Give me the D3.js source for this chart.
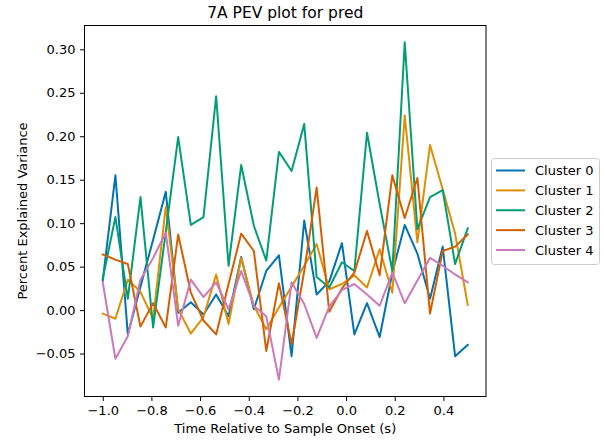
<!DOCTYPE html>
<html>
<head>
<meta charset="utf-8">
<script src="https://cdn.jsdelivr.net/npm/d3@7"></script>
<style>
  html, body { margin: 0; padding: 0; background: #fff; }
  svg { display: block; font-family: "DejaVu Sans", sans-serif; }
</style>
</head>
<body>
<svg id="chart" width="604" height="445"></svg>
<script>
// Time points (s) relative to sample onset
const timePoints = [-1.000, -0.948, -0.897, -0.845, -0.793, -0.741, -0.690, -0.638, -0.586, -0.534,
                    -0.483, -0.431, -0.379, -0.328, -0.276, -0.224, -0.172, -0.121, -0.069, -0.017,
                     0.034,  0.086,  0.138,  0.190,  0.241,  0.293,  0.345,  0.397,  0.448,  0.500];

// Percent explained variance per cluster
const cluster0 = [0.034, 0.155, -0.028, 0.027, 0.081, 0.136, -0.003, 0.009, -0.005, 0.018,
                  -0.007, 0.061, 0.001, 0.045, 0.063, -0.053, 0.103, 0.018, 0.033, 0.077,
                  -0.028, 0.008, -0.031, 0.043, 0.098, 0.065, 0.013, 0.073, -0.053, -0.040];
const cluster1 = [-0.004, -0.010, 0.035, 0.021, -0.010, 0.119, 0.001, -0.027, -0.008, 0.041,
                  -0.016, 0.060, 0.005, -0.022, 0.003, 0.027, 0.051, 0.076, 0.024, 0.030,
                  0.040, 0.026, 0.070, 0.020, 0.224, 0.078, 0.190, 0.139, 0.088, 0.006];
const cluster2 = [0.036, 0.107, 0.013, 0.130, -0.020, 0.090, 0.199, 0.098, 0.107, 0.246,
                  0.051, 0.167, 0.097, 0.057, 0.182, 0.160, 0.214, 0.038, 0.026, 0.055,
                  0.045, 0.204, 0.122, 0.045, 0.308, 0.093, 0.130, 0.138, 0.053, 0.094];
const cluster3 = [0.064, 0.058, 0.053, -0.019, 0.008, -0.020, 0.087, 0.020, -0.012, -0.028,
                  0.030, 0.088, 0.068, -0.047, 0.031, -0.039, 0.045, 0.141, -0.002, 0.025,
                  0.043, 0.091, 0.040, 0.155, 0.106, 0.152, -0.004, 0.068, 0.073, 0.087];
const cluster4 = [0.032, -0.056, -0.030, 0.035, 0.060, 0.089, -0.018, 0.035, 0.015, 0.032,
                  0.001, 0.045, 0.005, -0.007, -0.080, 0.032, 0.007, -0.032, 0.004, 0.023,
                  0.030, 0.018, 0.005, 0.043, 0.008, 0.034, 0.060, 0.051, 0.041, 0.032];

const seriesNames = ["Cluster 0", "Cluster 1", "Cluster 2", "Cluster 3", "Cluster 4"];
const seriesValues = [cluster0, cluster1, cluster2, cluster3, cluster4];
const seriesColors = ["#0173b2", "#de8f05", "#029e73", "#d55e00", "#cc78bc"];

const xTicks = [-1.0, -0.8, -0.6, -0.4, -0.2, 0.0, 0.2, 0.4];
const yTicks = [-0.05, 0.00, 0.05, 0.10, 0.15, 0.20, 0.25, 0.30];

const titleText = "7A PEV plot for pred";
const xLabel = "Time Relative to Sample Onset (s)";
const yLabel = "Percent Explained Variance";

// Layout
const plot = { left: 84.5, top: 25.5, right: 486, bottom: 396.5 };
const fontPx = 13;

const svg = d3.select("#chart");
svg.append("rect").attr("width", 604).attr("height", 445).attr("fill", "#fff");

// Scales with 5% padding around the data extent
function padded(ext) {
  const r = ext[1] - ext[0];
  return [ext[0] - 0.05 * r, ext[1] + 0.05 * r];
}
const xExt = d3.extent(timePoints);
const yExt = d3.extent(seriesValues.flat());
const x = d3.scaleLinear().domain(padded(xExt)).range([plot.left, plot.right]);
const y = d3.scaleLinear().domain(padded(yExt)).range([plot.bottom, plot.top]);

// Clip region for lines
svg.append("defs").append("clipPath").attr("id", "plotClip")
  .append("rect")
  .attr("x", plot.left).attr("y", plot.top)
  .attr("width", plot.right - plot.left).attr("height", plot.bottom - plot.top);

// Lines
const line = d3.line()
  .x((d, i) => x(timePoints[i]))
  .y(d => y(d));

const lines = svg.append("g").attr("clip-path", "url(#plotClip)");
seriesValues.forEach((vals, k) => {
  lines.append("path")
    .datum(vals)
    .attr("d", line)
    .attr("fill", "none")
    .attr("stroke", seriesColors[k])
    .attr("stroke-width", 2)
    .attr("stroke-linejoin", "round")
    .attr("stroke-linecap", "square");
});

// Axes
const xAxis = d3.axisBottom(x).tickValues(xTicks).tickFormat(d3.format(".1f"))
  .tickSize(4.5).tickPadding(4.5);
const yAxis = d3.axisLeft(y).tickValues(yTicks).tickFormat(d3.format(".2f"))
  .tickSize(4.5).tickPadding(4.5);

const gx = svg.append("g").attr("transform", `translate(0,${plot.bottom})`).call(xAxis);
const gy = svg.append("g").attr("transform", `translate(${plot.left},0)`).call(yAxis);
[gx, gy].forEach(g => {
  g.select(".domain").remove();
  g.selectAll(".tick line").attr("stroke", "#000").attr("stroke-width", 1);
  g.selectAll(".tick text").attr("fill", "#000")
    .style("font-family", "DejaVu Sans").style("font-size", fontPx + "px");
});

// Frame
svg.append("rect")
  .attr("x", plot.left).attr("y", plot.top)
  .attr("width", plot.right - plot.left).attr("height", plot.bottom - plot.top)
  .attr("fill", "none").attr("stroke", "#000").attr("stroke-width", 1);

// Title and axis labels
svg.append("text")
  .attr("x", (plot.left + plot.right) / 2).attr("y", 18)
  .attr("text-anchor", "middle")
  .style("font-size", "15.5px")
  .attr("fill", "#000")
  .text(titleText);

svg.append("text")
  .attr("x", (plot.left + plot.right) / 2).attr("y", 433)
  .attr("text-anchor", "middle")
  .style("font-size", fontPx + "px")
  .attr("fill", "#000")
  .text(xLabel);

svg.append("text")
  .attr("transform", `translate(27,${(plot.top + plot.bottom) / 2}) rotate(-90)`)
  .attr("text-anchor", "middle")
  .style("font-size", fontPx + "px")
  .attr("fill", "#000")
  .text(yLabel);

// Legend
const legend = svg.append("g");
legend.append("rect")
  .attr("x", 491.5).attr("y", 158.5)
  .attr("width", 108).attr("height", 106)
  .attr("rx", 3).attr("ry", 3)
  .attr("fill", "#fff").attr("fill-opacity", 0.8)
  .attr("stroke", "#ccc").attr("stroke-width", 1);

const rowY = d3.scaleLinear().domain([0, 4]).range([170.5, 250]);
seriesNames.forEach((name, k) => {
  const yy = rowY(k);
  legend.append("line")
    .attr("x1", 496).attr("x2", 525)
    .attr("y1", yy).attr("y2", yy)
    .attr("stroke", seriesColors[k]).attr("stroke-width", 2);
  legend.append("text")
    .attr("x", 535).attr("y", yy)
    .attr("dy", "0.35em")
    .style("font-size", fontPx + "px")
    .attr("fill", "#000")
    .text(name);
});
</script>
</body>
</html>
